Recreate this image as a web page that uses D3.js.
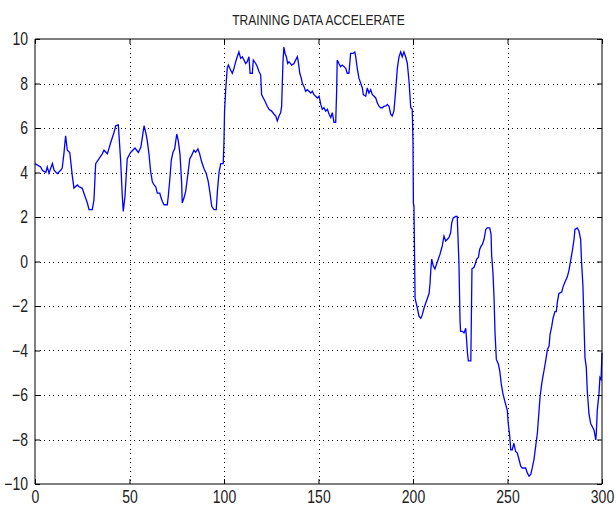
<!DOCTYPE html>
<html>
<head>
<meta charset="utf-8">
<script src="https://cdn.jsdelivr.net/npm/d3@7"></script>
<style>
  html, body { margin: 0; padding: 0; background: #fff; }
  svg { display: block; }
  text { font-family: "Liberation Sans", Arial, sans-serif; }
</style>
</head>
<body>
<script>
const title = "TRAINING DATA ACCELERATE";
const xTicks = [0, 50, 100, 150, 200, 250, 300];
const yTicks = [-10, -8, -6, -4, -2, 0, 2, 4, 6, 8, 10];

const xs = [
  0, 3.0, 3.9, 5.7, 6.5, 7.4, 9.2, 10.1, 11.8, 13.6, 14.4, 15.3, 16.2, 17.1, 18.4, 19.7, 20.6, 22.4, 23.3, 25.0,
  25.9, 27.7, 28.6, 30.3, 31.2, 32.1, 33.9, 35.6, 36.5, 38.3, 40.1, 41.8, 42.7, 44.1, 44.4, 45.3, 46.2, 46.7, 47.6, 48.8,
  50.6, 52.9, 54.7, 56.0, 56.8, 57.7, 58.6, 59.4, 60.3, 61.2, 62.1, 63.0, 63.9, 64.7, 66.0, 66.5, 67.4, 68.3, 70.0, 70.5,
  71.3, 72.1, 73.0, 73.9, 75.0, 75.8, 76.7, 77.6, 77.9, 78.8, 79.7, 80.6, 81.9, 82.9, 84.1, 85.0, 86.2, 87.1, 88.2, 89.4,
  90.6, 91.7, 92.6, 93.5, 94.7, 95.9, 96.5, 97.4, 98.3, 99.6, 100.0, 100.3, 100.9, 101.7, 102.3, 103.5, 104.4, 105.3, 106.2, 107.0,
  107.9, 108.8, 109.7, 110.6, 111.5, 112.3, 113.2, 113.8, 115.0, 115.5, 116.8, 117.6, 118.5, 119.4, 119.9, 120.8, 121.7, 122.9, 123.8, 125.2,
  126.5, 127.4, 128.2, 129.1, 130.0, 130.5, 131.2, 131.7, 132.3, 133.0, 133.7, 134.4, 135.8, 137.0, 137.9, 138.8, 139.3, 140.1, 140.9, 141.4,
  142.3, 143.2, 144.1, 145.0, 145.9, 146.7, 147.6, 149.4, 150.3, 151.2, 152.0, 152.9, 153.8, 154.7, 155.6, 156.5, 157.3, 158.2, 159.1, 159.6,
  159.9, 160.8, 161.7, 162.6, 163.5, 164.4, 165.2, 166.1, 166.7, 167.0, 168.3, 169.2, 169.7, 170.5, 171.4, 172.3, 173.2, 173.7, 175.0, 175.8,
  176.7, 177.6, 178.5, 179.4, 180.3, 181.1, 182.0, 182.9, 183.8, 184.7, 185.6, 186.4, 187.3, 188.2, 189.0, 189.9, 190.8, 191.7, 192.6, 193.5,
  194.3, 195.2, 196.1, 197.0, 197.9, 198.8, 199.6, 200.0, 200.2, 200.5, 201.1, 202.3, 203.2, 204.1, 204.9, 205.8, 206.7, 207.6, 208.5, 209.0,
  209.4, 209.9, 210.7, 211.6, 212.5, 213.4, 214.3, 215.0, 215.5, 216.4, 217.3, 218.2, 219.0, 219.9, 220.5, 221.3, 222.6, 223.4, 224.3, 224.9,
  225.2, 226.1, 227.0, 227.9, 228.4, 228.8, 229.3, 230.6, 231.2, 232.3, 232.9, 233.7, 234.6, 235.3, 236.1, 236.7, 237.6, 238.5, 239.3, 240.6,
  241.3, 241.6, 242.3, 242.9, 243.4, 244.1, 245.2, 245.9, 246.7, 247.6, 248.7, 249.9, 250.4, 251.2, 251.7, 252.5, 253.4, 254.3, 255.2, 256.1,
  257.0, 257.8, 259.6, 260.5, 261.4, 262.3, 263.1, 264.0, 264.9, 265.8, 266.7, 267.2, 268.1, 268.8, 269.3, 270.2, 271.1, 272.0, 272.5, 273.4,
  274.1, 275.1, 275.8, 276.4, 277.2, 278.7, 279.4, 280.4, 281.6, 282.5, 283.4, 284.3, 285.2, 285.7, 286.9, 287.8, 288.7, 289.2, 289.9, 290.5,
  291.0, 291.7, 292.2, 293.1, 294.0, 294.9, 295.8, 296.7, 297.0, 297.5, 298.4, 298.9, 299.5, 300.0
];
const ys = [
  4.4, 4.25, 4.1, 4.0, 4.25, 3.97, 4.4, 4.1, 3.95, 4.1, 4.2, 4.85, 5.65, 5.0, 4.9, 3.88, 3.3, 3.44, 3.36, 3.29,
  3.07, 2.63, 2.33, 2.33, 2.77, 4.4, 4.62, 4.84, 5.0, 4.84, 5.36, 5.8, 6.1, 6.14, 5.74, 4.55, 2.92, 2.25, 2.92, 4.62,
  4.9, 5.1, 4.9, 5.13, 5.58, 6.1, 5.8, 5.43, 4.84, 4.03, 3.58, 3.44, 3.36, 3.07, 3.07, 2.92, 2.7, 2.55, 2.55, 2.92,
  3.66, 4.55, 4.91, 5.06, 5.73, 5.43, 4.84, 3.51, 2.63, 2.85, 3.14, 3.73, 4.62, 4.77, 5.0, 4.91, 5.06, 4.84, 4.47, 4.18,
  3.96, 3.58, 3.07, 2.48, 2.33, 2.33, 3.14, 4.03, 4.4, 4.4, 5.43, 6.76, 7.72, 8.68, 8.83, 8.61, 8.46, 8.68, 8.98, 9.2,
  9.42, 9.13, 9.2, 9.05, 8.9, 8.98, 9.2, 8.46, 8.46, 9.05, 8.9, 8.76, 8.54, 8.39, 7.5, 7.35, 7.2, 6.98, 6.84, 6.76,
  6.62, 6.54, 6.32, 6.54, 6.69, 6.98, 8.98, 9.64, 9.35, 9.2, 8.9, 8.98, 8.83, 8.9, 9.05, 9.2, 8.98, 8.46, 8.24, 8.02,
  7.87, 7.65, 7.72, 7.65, 7.57, 7.65, 7.5, 7.35, 7.43, 7.06, 6.84, 6.91, 6.76, 6.84, 6.62, 6.47, 6.69, 6.25, 6.25, 7.65,
  9.05, 8.9, 8.76, 8.83, 8.76, 8.68, 8.46, 8.46, 9.05, 9.35, 9.35, 9.42, 9.2, 8.68, 8.24, 8.02, 7.8, 7.5, 7.43, 7.8,
  7.57, 7.72, 7.5, 7.43, 7.35, 7.13, 6.98, 6.91, 6.91, 6.98, 6.98, 7.06, 6.98, 6.62, 6.54, 6.76, 7.65, 8.68, 9.2, 9.42,
  9.2, 9.42, 9.2, 8.9, 8.09, 6.91, 6.84, 5.4, 2.63, 2.48, -1.66, -2.1, -2.47, -2.55, -2.4, -2.1, -1.88, -1.66, -1.44, -1.0,
  -0.41, 0.11, -0.19, -0.33, -0.11, 0.11, 0.33, 0.55, 0.7, 1.14, 0.92, 1.0, 1.07, 1.29, 1.74, 1.96, 2.03, 2.03, -0.04, -2.7,
  -3.14, -3.14, -3.21, -3.0, -3.58, -4.1, -4.47, -4.47, -0.33, -0.26, -0.11, 0.11, 0.18, 0.55, 0.7, 0.77, 1.0, 1.44, 1.51, 1.51,
  1.22, 0.3, -0.5, -1.66, -3.2, -4.4, -4.62, -4.91, -5.5, -5.95, -6.32, -6.69, -7.28, -7.87, -8.46, -8.46, -8.17, -8.54, -8.61, -8.9,
  -9.2, -9.28, -9.28, -9.5, -9.65, -9.57, -9.28, -8.9, -8.31, -7.72, -6.69, -6.1, -5.5, -5.14, -4.91, -4.47, -3.96, -3.8, -3.29, -2.92,
  -2.55, -2.25, -2.25, -1.81, -1.44, -1.37, -1.14, -0.92, -0.7, -0.41, 0.04, 0.48, 1.0, 1.44, 1.51, 1.37, 1.0, -0.04, -1.07, -2.85,
  -4.32, -4.77, -5.8, -6.84, -7.28, -7.43, -7.58, -8.02, -7.72, -6.69, -5.95, -5.21, -5.3, -4.1
];

const W = 616, H = 509;
const margin = { left: 35, right: 14, top: 39, bottom: 25 };
const svg = d3.select("body").append("svg").attr("width", W).attr("height", H);

const x = d3.scaleLinear().domain([0, 300]).range([margin.left, W - margin.right]);
const y = d3.scaleLinear().domain([-10, 10]).range([H - margin.bottom, margin.top]);

// grid
const grid = svg.append("g").attr("stroke", "#000").attr("stroke-width", 1)
  .attr("stroke-dasharray", "1,3.5").attr("shape-rendering", "crispEdges");
xTicks.slice(1, -1).forEach(t => {
  grid.append("line").attr("x1", Math.round(x(t)) + 0.5).attr("x2", Math.round(x(t)) + 0.5)
    .attr("y1", y(10)).attr("y2", y(-10));
});
yTicks.slice(1, -1).forEach(t => {
  grid.append("line").attr("y1", Math.round(y(t)) + 0.5).attr("y2", Math.round(y(t)) + 0.5)
    .attr("x1", x(0)).attr("x2", x(300));
});

// data line
const line = d3.line().x((d, i) => x(xs[i])).y((d, i) => y(ys[i]));
svg.append("path").datum(ys).attr("d", line)
  .attr("fill", "none").attr("stroke", "#0000ff").attr("stroke-width", 1.3)
  .attr("stroke-linejoin", "miter");

// axes (MATLAB style box with inward ticks)
const SX = 0.8;     // horizontal squeeze of the narrow MATLAB-style digits
const fontSize = 17.5;
const xAxisB = d3.axisBottom(x).tickValues(xTicks).tickSize(-5).tickPadding(7);
const xAxisT = d3.axisTop(x).tickValues(xTicks).tickSize(-5).tickFormat("");
const yAxisL = d3.axisLeft(y).tickValues(yTicks).tickSize(-5).tickPadding(7);
const yAxisR = d3.axisRight(y).tickValues(yTicks).tickSize(-5).tickFormat("");

function style(g) {
  g.selectAll("path").attr("stroke", "#000").attr("stroke-width", 1);
  g.selectAll("line").attr("stroke", "#000");
  g.selectAll("text").attr("fill", "#222").style("font-size", fontSize + "px")
    .style("font-family", '"Liberation Sans", Arial, sans-serif')
    .each(function () {
      const t = d3.select(this);
      const xv = +t.attr("x") || 0;
      t.attr("x", xv / SX).attr("transform", `scale(${SX},1)`);
    });
}
svg.append("g").attr("transform", `translate(0,${y(-10)})`).call(xAxisB).call(style)
  .call(g => g.selectAll("path.domain").attr("d", `M${x(0)},0H${x(300)}`));
svg.append("g").attr("transform", `translate(0,${y(10)})`).call(xAxisT).call(style)
  .call(g => g.selectAll("path.domain").attr("d", `M${x(0)},0H${x(300)}`));
svg.append("g").attr("transform", `translate(${x(0)},0)`).call(yAxisL).call(style)
  .call(g => g.selectAll("path.domain").attr("d", `M0,${y(-10)}V${y(10)}`));
svg.append("g").attr("transform", `translate(${x(300)},0)`).call(yAxisR).call(style)
  .call(g => g.selectAll("path.domain").attr("d", `M0,${y(-10)}V${y(10)}`));

// title
const TS = 0.86;
svg.append("text")
  .attr("transform", `translate(${(x(0) + x(300)) / 2},25) scale(${TS},1)`)
  .attr("text-anchor", "middle").style("font-size", "14px").attr("fill", "#222")
  .text(title);
</script>
</body>
</html>
